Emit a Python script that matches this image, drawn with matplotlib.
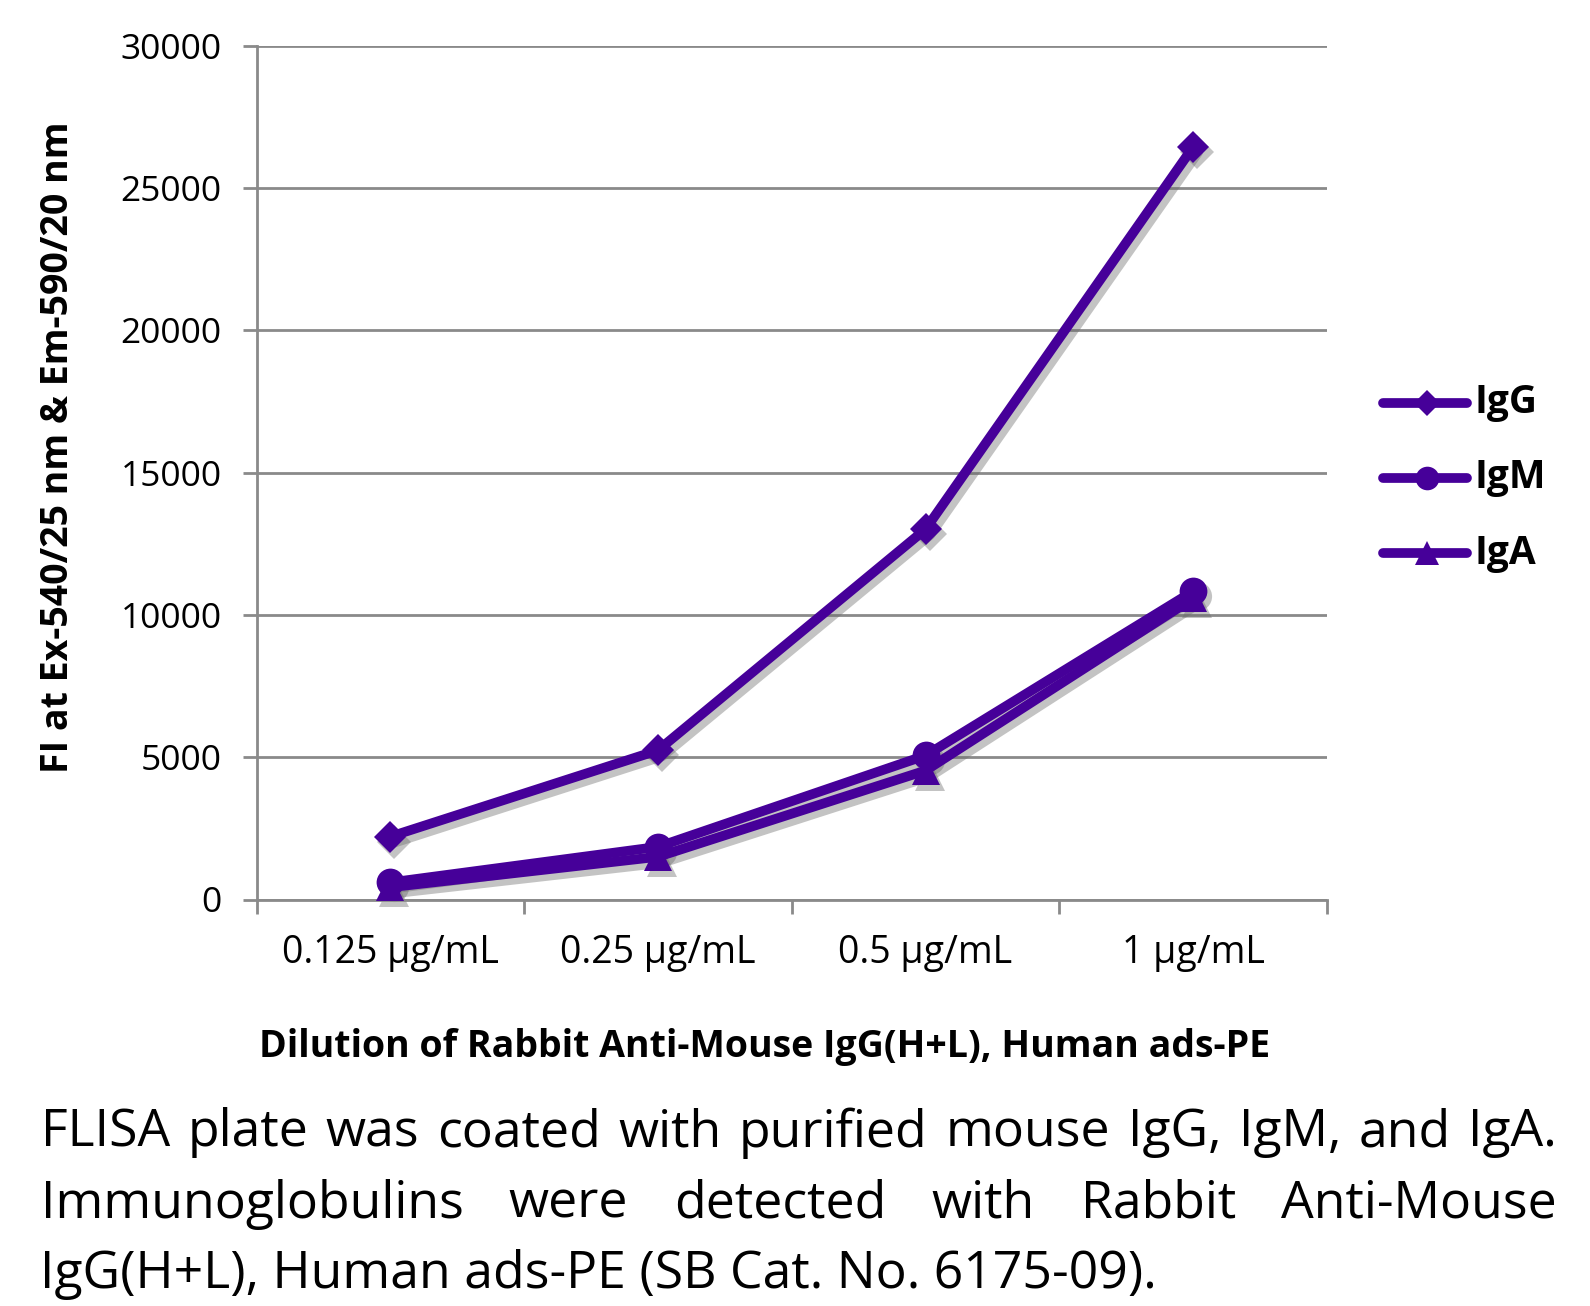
import matplotlib
matplotlib.use("Agg")
import matplotlib.pyplot as plt
import matplotlib.transforms as mtransforms
from matplotlib.lines import Line2D

categories = ["0.125 \u00b5g/mL", "0.25 \u00b5g/mL", "0.5 \u00b5g/mL", "1 \u00b5g/mL"]
igg = [2210, 5240, 13010, 26440]
igm = [600, 1850, 5060, 10830]
iga = [430, 1500, 4530, 10580]
series_names = ["IgG", "IgM", "IgA"]
yticks = [0, 5000, 10000, 15000, 20000, 25000, 30000]
caption_lines = [
    "FLISA plate was coated with purified mouse IgG, IgM, and IgA.",
    "Immunoglobulins were detected with Rabbit Anti-Mouse",
    "IgG(H+L), Human ads-PE (SB Cat. No. 6175-09).",
]
ylabel = "FI at Ex-540/25 nm & Em-590/20 nm"
xlabel = "Dilution of Rabbit Anti-Mouse IgG(H+L), Human ads-PE"

FONT = "Open Sans"
plt.rcParams['font.family'] = [FONT, 'DejaVu Sans']
COLOR = "#460099"
GRID = "#8a8a8a"

W, H = 1590, 1306
fig = plt.figure(figsize=(W / 100, H / 100), dpi=100)
ax = fig.add_axes([256.5 / W, 1 - 899.5 / H, (1327 - 256.5) / W, (899.5 - 45.6) / H])

x = list(range(len(categories)))
markers = ["D", "o", "^"]
sizes = [16, 20, 20]
series = [igg, igm, iga]
shadow_tr = ax.transData + mtransforms.ScaledTranslation(4 / 100, -5 / 100, fig.dpi_scale_trans)
for vals, m, ms in zip(series[::-1], markers[::-1], sizes[::-1]):
    ax.plot(x, vals, color='#6a6a6a', alpha=0.4, lw=8.5, marker=m, ms=ms + 1, mew=0,
            solid_joinstyle='round', solid_capstyle='round', transform=shadow_tr,
            zorder=2, clip_on=False)
for vals, m, ms in zip(series[::-1], markers[::-1], sizes[::-1]):
    ax.plot(x, vals, color=COLOR, lw=7, marker=m, ms=ms, mew=0,
            solid_joinstyle='round', solid_capstyle='round', zorder=3, clip_on=False)

ax.set_xlim(-0.5, 3.5)
ax.set_ylim(0, 30000)
ax.set_yticks(yticks)
ax.set_yticklabels([str(v) for v in yticks])
ax.yaxis.grid(True, color=GRID, lw=2)
ax.set_axisbelow(True)
ax.set_xticks([-0.5, 0.5, 1.5, 2.5, 3.5])
ax.set_xticklabels([])
ax.set_xticks(x, minor=True)
ax.set_xticklabels(categories, minor=True)
ax.tick_params(axis='x', which='major', length=10, width=2, color=GRID, direction='out')
ax.tick_params(axis='x', which='minor', length=0, pad=25, labelsize=27)
ax.tick_params(axis='y', length=10, width=2, color=GRID, pad=15, labelsize=25.5)
for s in ["top", "right"]:
    ax.spines[s].set_visible(False)
for s in ["left", "bottom"]:
    ax.spines[s].set_color(GRID)
    ax.spines[s].set_linewidth(2)

fig.text(58 / W, 1 - 447 / H, ylabel, rotation=90, ha='center', va='center',
         fontsize=27, fontweight='bold')
fig.text(765 / W, 1 - 1047 / H, xlabel, ha='center', va='center',
         fontsize=27, fontweight='bold')

# legend
leg_y = [403, 478, 553]
for name, m, ms, yy in zip(series_names, markers, sizes, leg_y):
    ln = Line2D([1383 / W, 1467 / W], [1 - yy / H] * 2, transform=fig.transFigure,
                color=COLOR, lw=7, solid_capstyle='round')
    fig.add_artist(ln)
    mk = Line2D([1427 / W], [1 - yy / H], transform=fig.transFigure, color=COLOR,
                marker=m, ms=ms * 0.85, mew=0, lw=0)
    fig.add_artist(mk)
    fig.text(1474 / W, 1 - yy / H, name, ha='left', va='center', fontsize=28,
             fontweight='bold')

# caption with justification
x0, x1 = 40.5 / W, 1557 / W
cap_y = [1133, 1204, 1274]
fig.canvas.draw()
renderer = fig.canvas.get_renderer()
cap_fs = 37.3
for i, (line, yy) in enumerate(zip(caption_lines, cap_y)):
    if i == len(caption_lines) - 1:
        fig.text(x0, 1 - yy / H, line, ha='left', va='center', fontsize=cap_fs)
        continue
    words = line.split(" ")
    texts = [fig.text(0, 1 - yy / H, w, ha='left', va='center', fontsize=cap_fs) for w in words]
    widths = [t.get_window_extent(renderer).width / W for t in texts]
    gap = (x1 - x0 - sum(widths)) / (len(words) - 1)
    pos = x0
    for t, wd in zip(texts, widths):
        t.set_x(pos)
        pos += wd + gap

fig.savefig("out.png", dpi=100)
